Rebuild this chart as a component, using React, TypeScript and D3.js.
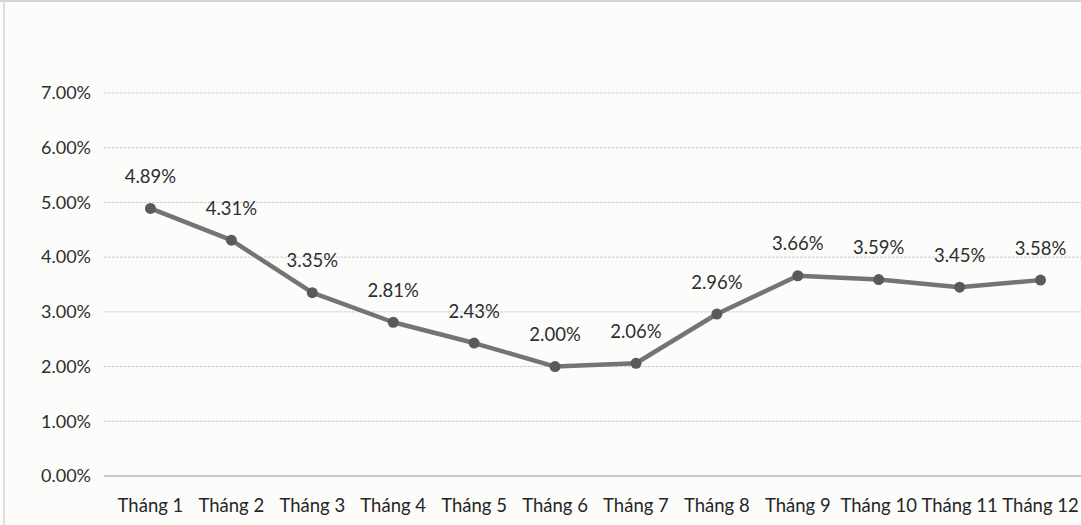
import * as d3 from 'd3';
import { useEffect, useRef } from 'react';

const months = ["Tháng 1", "Tháng 2", "Tháng 3", "Tháng 4", "Tháng 5", "Tháng 6", "Tháng 7", "Tháng 8", "Tháng 9", "Tháng 10", "Tháng 11", "Tháng 12"];
const rates = [4.89, 4.31, 3.35, 2.81, 2.43, 2.00, 2.06, 2.96, 3.66, 3.59, 3.45, 3.58];
const yTicks = [0, 1, 2, 3, 4, 5, 6, 7];

const App = () => {
    const ref = useRef<SVGSVGElement>(null);
    useEffect(() => {
        DrawChart();
    }, []);
    const DrawChart = () => {
        var width = 1081, height = 525;
        var margin = { top: 93, right: 0, bottom: 49, left: 110 };
        var font = "Lato, 'Open Sans', sans-serif";
        var svg = d3.select(ref.current);
        svg.selectAll("*").remove();
        svg.append("rect").attr("width", width).attr("height", height).attr("fill", "#fcfcfb");
        // frame of the scanned chart
        svg.append("line").attr("x1", 0).attr("x2", width).attr("y1", 1).attr("y2", 1)
            .attr("stroke", "#c8c8c8").attr("stroke-width", 1.5);
        svg.append("line").attr("x1", 4).attr("x2", 4).attr("y1", 0).attr("y2", height)
            .attr("stroke", "#d4d4d4").attr("stroke-width", 1.5);

        var x: any = d3.scaleBand()
            .domain(months)
            .range([margin.left, width - margin.right])
            .padding(0);
        var y: any = d3.scaleLinear()
            .domain([0, 7])
            .range([height - margin.bottom, margin.top]);

        // gridlines
        svg.append("g").selectAll("line")
            .data(yTicks)
            .enter().append("line")
            .attr("x1", margin.left - 6)
            .attr("x2", width)
            .attr("y1", (d: any) => y(d))
            .attr("y2", (d: any) => y(d))
            .attr("stroke", (d: any) => d === 0 ? "#b8b8b8" : "#cfcfcf")
            .attr("stroke-width", (d: any) => d === 0 ? 1.5 : 1)
            .attr("stroke-dasharray", (d: any) => d === 0 ? null : "3,1");

        // y labels
        svg.append("g").selectAll("text")
            .data(yTicks)
            .enter().append("text")
            .attr("x", 91)
            .attr("y", (d: any) => y(d))
            .attr("dy", "0.35em")
            .attr("text-anchor", "end")
            .style("font-family", font)
            .style("font-size", "18px")
            .attr("fill", "#2e2e2e")
            .text((d: any) => d.toFixed(2) + "%");

        // x labels
        svg.append("g").selectAll("text")
            .data(months)
            .enter().append("text")
            .attr("x", (d: any) => x(d) + x.bandwidth() / 2)
            .attr("y", 512)
            .attr("text-anchor", "middle")
            .style("font-family", font)
            .style("font-size", "18.5px")
            .attr("fill", "#262626")
            .text((d: any) => d);

        var cx = (i: number) => x(months[i]) + x.bandwidth() / 2;

        var line = d3.line<number>()
            .x((d, i) => cx(i))
            .y((d) => y(d));
        svg.append("path")
            .datum(rates)
            .attr("fill", "none")
            .attr("stroke", "#747474")
            .attr("stroke-width", 4.5)
            .attr("stroke-linejoin", "round")
            .attr("d", line as any);

        svg.append("g").selectAll("circle")
            .data(rates)
            .enter().append("circle")
            .attr("cx", (d: any, i: number) => cx(i))
            .attr("cy", (d: any) => y(d))
            .attr("r", 5.5)
            .attr("fill", "#5a5a5a");

        // data labels
        svg.append("g").selectAll("text")
            .data(rates)
            .enter().append("text")
            .attr("x", (d: any, i: number) => cx(i))
            .attr("y", (d: any) => y(d) - 32)
            .attr("dy", "0.35em")
            .attr("text-anchor", "middle")
            .style("font-family", font)
            .style("font-size", "18.5px")
            .attr("fill", "#2e2e2e")
            .text((d: any) => d.toFixed(2) + "%");
    };
    return (
        <svg ref={ref} width={1081} height={525} style={{ position: "absolute", left: 0, top: 0 }}></svg>
    );
};
export default App;
